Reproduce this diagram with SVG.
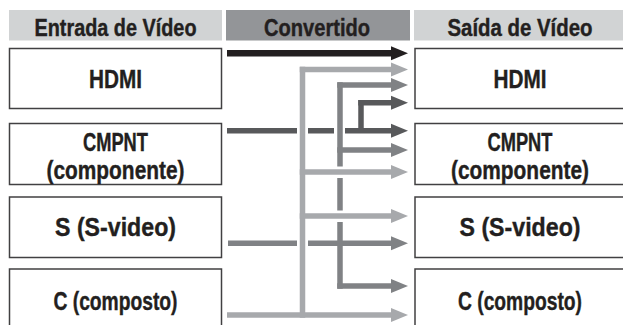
<svg xmlns="http://www.w3.org/2000/svg" width="623" height="325" viewBox="0 0 623 325">
<style>
.hdr{font-family:"Liberation Sans",Arial,sans-serif;font-weight:bold;font-size:23px;fill:#231f20;stroke:#231f20;stroke-width:0.4;text-anchor:middle}
.lbl{font-family:"Liberation Sans",Arial,sans-serif;font-weight:bold;font-size:25.5px;fill:#231f20;stroke:#231f20;stroke-width:0.4;text-anchor:middle}
.box{fill:#ffffff;stroke:#414042;stroke-width:1.5}
.hl{fill:#d1d3d4}
.hm{fill:#939598}
.c{fill:none;stroke-linecap:butt}
.bk{stroke:#231f20;stroke-width:6.5}
.dk{stroke:#58595b;stroke-width:5.5}
.md{stroke:#808285;stroke-width:5.5}
.lt{stroke:#a7a9ac;stroke-width:5.5}
</style>
<defs>
<marker id="hBk" markerUnits="userSpaceOnUse" markerWidth="18" markerHeight="15" refX="0" refY="7" orient="auto" viewBox="0 0 18 14"><path d="M0,0 L17,7 L0,14 Z" fill="#231f20"/></marker>
<marker id="hDk" markerUnits="userSpaceOnUse" markerWidth="18" markerHeight="15" refX="0" refY="7" orient="auto" viewBox="0 0 18 14"><path d="M0,0 L17,7 L0,14 Z" fill="#58595b"/></marker>
<marker id="hMd" markerUnits="userSpaceOnUse" markerWidth="18" markerHeight="15" refX="0" refY="7" orient="auto" viewBox="0 0 18 14"><path d="M0,0 L17,7 L0,14 Z" fill="#808285"/></marker>
<marker id="hLt" markerUnits="userSpaceOnUse" markerWidth="18" markerHeight="15" refX="0" refY="7" orient="auto" viewBox="0 0 18 14"><path d="M0,0 L17,7 L0,14 Z" fill="#a7a9ac"/></marker>
</defs>
<rect width="623" height="325" fill="#ffffff"/>
<g id="headers">
<rect class="hl" x="9" y="10" width="213" height="30.5"/>
<rect class="hm" x="226" y="10" width="184" height="30.5"/>
<rect class="hl" x="414" y="10" width="210" height="30.5"/>
<text class="hdr" x="115.5" y="36" textLength="162" lengthAdjust="spacingAndGlyphs">Entrada de Vídeo</text>
<text class="hdr" x="317" y="36" textLength="106" lengthAdjust="spacingAndGlyphs">Convertido</text>
<text class="hdr" x="520" y="36" textLength="145" lengthAdjust="spacingAndGlyphs">Saída de Vídeo</text>
</g>
<g id="in-hdmi"><rect class="box" x="9.5" y="48.5" width="212" height="60"/><text class="lbl" x="115.5" y="87.5" textLength="53" lengthAdjust="spacingAndGlyphs">HDMI</text></g>
<g id="in-cmpnt"><rect class="box" x="9.5" y="123.5" width="212" height="61"/><text class="lbl" x="115.5" y="151" textLength="65" lengthAdjust="spacingAndGlyphs">CMPNT</text><text class="lbl" x="115.5" y="179" textLength="138" lengthAdjust="spacingAndGlyphs">(componente)</text></g>
<g id="in-s"><rect class="box" x="9.5" y="197" width="212" height="60.5"/><text class="lbl" x="115.5" y="236" textLength="121" lengthAdjust="spacingAndGlyphs">S (S-video)</text></g>
<g id="in-c"><rect class="box" x="9.5" y="269" width="212" height="62"/><text class="lbl" x="115.5" y="310" textLength="124" lengthAdjust="spacingAndGlyphs">C (composto)</text></g>
<g id="out-hdmi"><rect class="box" x="415" y="48.5" width="212" height="60"/><text class="lbl" x="520" y="87.5" textLength="53" lengthAdjust="spacingAndGlyphs">HDMI</text></g>
<g id="out-cmpnt"><rect class="box" x="415" y="123.5" width="212" height="61"/><text class="lbl" x="520" y="151" textLength="65" lengthAdjust="spacingAndGlyphs">CMPNT</text><text class="lbl" x="520" y="179" textLength="138" lengthAdjust="spacingAndGlyphs">(componente)</text></g>
<g id="out-s"><rect class="box" x="415" y="197" width="212" height="60.5"/><text class="lbl" x="520" y="236" textLength="121" lengthAdjust="spacingAndGlyphs">S (S-video)</text></g>
<g id="out-c"><rect class="box" x="415" y="269" width="212" height="62"/><text class="lbl" x="520" y="310" textLength="124" lengthAdjust="spacingAndGlyphs">C (composto)</text></g>
<g id="connectors">
<path class="c bk" d="M227,53.3 H391" marker-end="url(#hBk)"/>
<path class="c dk" d="M227,130.7 H297 M308,130.7 H334"/>
<path class="c dk" d="M345,130.7 H391" marker-end="url(#hDk)"/>
<path class="c dk" d="M361,100 V131"/>
<path class="c dk" d="M358.25,102.7 H391" marker-end="url(#hDk)"/>
<path class="c md" d="M340,82.25 V166.5 M340,178 V210.5 M340,222 V288.75"/>
<path class="c md" d="M337.25,85 H391" marker-end="url(#hMd)"/>
<path class="c md" d="M337.25,150 H391" marker-end="url(#hMd)"/>
<path class="c md" d="M337.25,286 H391" marker-end="url(#hMd)"/>
<path class="c md" d="M228,243.3 H297"/>
<path class="c md" d="M308,243.3 H391" marker-end="url(#hMd)"/>
<path class="c lt" d="M302.5,66.75 V317.75"/>
<path class="c lt" d="M299.75,69.5 H391" marker-end="url(#hLt)"/>
<path class="c lt" d="M299.75,172 H391" marker-end="url(#hLt)"/>
<path class="c lt" d="M299.75,216 H391" marker-end="url(#hLt)"/>
<path class="c lt" d="M227,315 H391" marker-end="url(#hLt)"/>
</g>
</svg>
